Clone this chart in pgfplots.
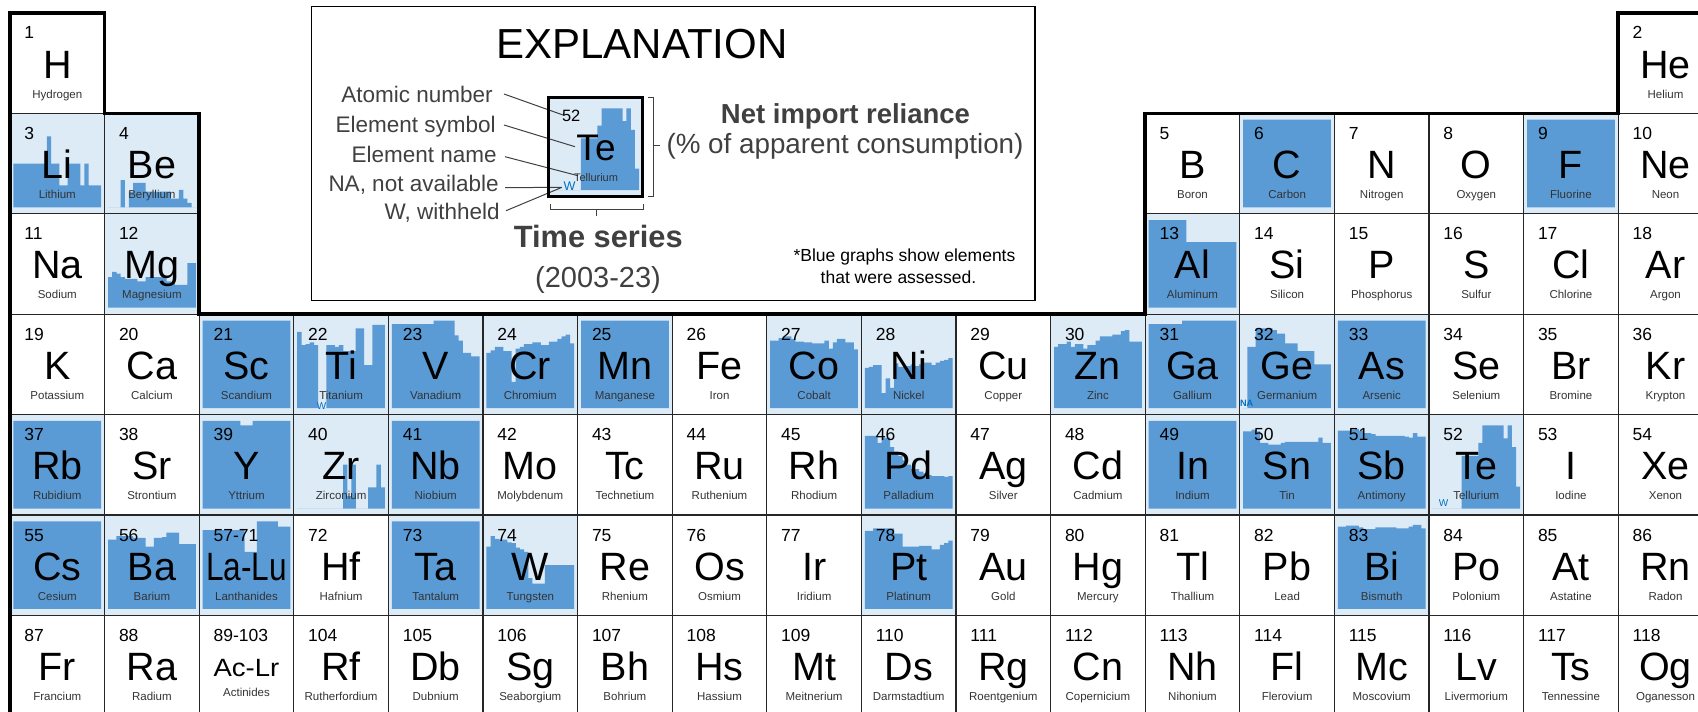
\documentclass[border=0pt]{standalone}
\usepackage{fontspec}
\setmainfont{Liberation Sans}
\usepackage{pgfplots}
\usepackage{pgfplotstable}
\pgfplotsset{compat=1.18}

\definecolor{dkblue}{RGB}{91,155,213}
\definecolor{ltblue}{RGB}{221,235,247}
\definecolor{txtgray}{RGB}{64,64,64}
\definecolor{wblue}{RGB}{0,112,192}

% net import reliance, % of apparent consumption, 2003-2023 (one row per element)
\pgfplotstableread{
el   y03 y04 y05 y06 y07 y08 y09 y10 y11 y12 y13 y14 y15 y16 y17 y18 y19 y20 y21 y22 y23
Li    50  50  50  50  50  50  50  50  81  50  50  25  25  50  50  50  25  50  25  25  25
Be     0   0   0  31   0  18  28  28  28  18  18  18  18  18  18  10  10  20  10   5   0
Mg    35  41  39  35  33  33  33  30  30  35  35  35  35  35  30  28  26  26  26  51  51
C    100 100 100 100 100 100 100 100 100 100 100 100 100 100 100 100 100 100 100 100 100
F    100 100 100 100 100 100 100 100 100 100 100 100 100 100 100 100 100 100 100 100 100
Al   100 100 100 100 100 100 100 100 100  75  75  75  75  75  75  75  75  75  75  75  75
Sc   100 100 100 100 100 100 100 100 100 100 100 100 100 100 100 100 100 100 100 100 100
Ti    87  72  73  75  72   0   0  72  72  70  72  65  65  65  91  91  49  49  95  95  95
V     96  96  96  96  96  96  96  96  96  96 100 100 100 100 100  83  77  63  63  59  59
Cr    63  66  70  70  65  65  30  68  70  73  73  75  75  72  72  76  76  79  82  84  74
Mn   100 100 100 100 100 100 100 100 100 100 100 100 100 100 100 100 100 100 100 100 100
Co    77  77  80  82  82  79  76  76  75  75  74  74  74  77  68  75  79  79  75  75  67
Ni    46  47  49  49  17  34  23  51  47  47  48  50  48  50  52  52  49  52  54  55  57
Zn    70  73  73  76  70  73  73  68  72  72  77  82  82  82  84  84  88  89  76  76  76
Ga    96  96  96  96  96  96  96  96 100 100 100 100 100 100 100 100 100 100 100 100 100
Ge     0  70  70  91  91  91  91  89  85  85  74  74  74  65  65  65  65  50  50  50  50
As   100 100 100 100 100 100 100 100 100 100 100 100 100 100 100 100 100 100 100 100 100
Rb   100 100 100 100 100 100 100 100 100 100 100 100 100 100 100 100 100 100 100 100 100
Y    100 100 100 100 100 100 100 100 100  95  95  95 100 100 100 100 100 100 100 100 100
Zr     0   0   0   0   0   0   0   0   0   0   0  50  14  50   0   0   0  24  24  50  24
Nb   100 100 100 100 100 100 100 100 100 100 100 100 100 100 100 100 100 100 100 100 100
Pd    83  83  83  75  81  81  70  65  60  55  50  45  45  42  40  38  37  37  37  36  37
In   100 100 100 100 100 100 100 100 100 100 100 100 100 100 100 100 100 100 100 100 100
Sn    88  88  90  88  75  75  73  73  73  75  76  76  76  76  76  76  76  76  81  75  75
Sb    89  89  89  90  91  89  86  86  85  83  83  83  83  83  83  83  82  81  86  82  82
Te     0   0   0   0   0   0   0  60  60  60  60  75  95  95  95  95  95  80  95  70  25
Cs   100 100 100 100 100 100 100 100 100 100 100 100 100 100 100 100 100 100 100 100 100
Ba    79  79  83  83  83  83  81  81  81  71  71  81  81  82  87  87  87  74  74  74  74
LaLu  90  90  90  90  90  90  90  90  90  90  65  65  65 100 100 100 100 100  94  94  94
Ta   100 100 100 100 100 100 100 100 100 100 100 100 100 100 100 100 100 100 100 100 100
W     71  83  80  79  79  76  75  70  68  65  35  29  29  29  50  50  50  50  50  50  50
Pt    89  89  92  92  92  92  92  86  86  71  71  71  71  72  72  72  68  68  73  75  78
Bi    94  94  95  95  95  93  91  91  91  93  93  93  93  93  92  92  92  94  96  96  92
}\nirraw
\pgfplotstabletranspose[colnames from=el]{\nir}{\nirraw}

\pgfplotsset{spark/.style={anchor=south west, width=43.8pt, height=43.8pt,
  scale only axis, hide axis, xmin=-0.5, xmax=20.5, ymin=0, ymax=100,
  ybar, bar width=1.04, clip=false}}

\newcommand\fsz[1]{\fontsize{#1pt}{#1pt}\selectfont}

% cell grid: column k starts at 10+(k-1)*94.6 px, row r at 13+(r-1)*100.4 px
\newcommand\bg[2]{\fill[ltblue] ({10+(#1-1)*94.6},{13+(#2-1)*100.4}) rectangle +(94.6,100.4);}

\newcommand\spark[3]{%
  \pgfmathsetmacro\sx{0.5*(13.5+(#1-1)*94.6)}%
  \pgfmathsetmacro\sy{-0.5*(13+#2*100.4-6.5)}%
  \begin{axis}[spark, at={(\sx pt,\sy pt)}]
    \addplot[fill=dkblue, draw=none] table[x expr=\coordindex, y=#3] {\nir};
  \end{axis}}

\newcommand\cell[5]{%
  \pgfmathsetmacro\cx{10+(#1-1)*94.6}%
  \pgfmathsetmacro\cy{13+(#2-1)*100.4}%
  \draw[black!85, line width=0.65pt] (\cx,\cy) rectangle +(94.6,100.4);
  \node[anchor=base west, inner sep=0, font=\fsz{8.75}] at (\cx+14,\cy+26) {#3};
  \node[anchor=base, inner sep=0, font=\fsz{19.75}] at (\cx+47.3,\cy+65) {#4};
  \node[anchor=base, inner sep=0, font=\fsz{5.75}, text=black!80] at (\cx+47.3,\cy+85) {#5};
}

\begin{document}
\begin{tikzpicture}
\path[use as bounding box] (0,0) rectangle (849pt,-356pt);
\clip (0,0) rectangle (849pt,-356pt);

\begin{scope}[x=0.5pt,y=-0.5pt]
  \bg{1}{2}\bg{2}{2}\bg{14}{2}\bg{17}{2}\bg{2}{3}\bg{13}{3}
  \bg{3}{4}\bg{4}{4}\bg{5}{4}\bg{6}{4}\bg{7}{4}\bg{9}{4}\bg{10}{4}\bg{12}{4}\bg{13}{4}\bg{14}{4}\bg{15}{4}
  \bg{1}{5}\bg{3}{5}\bg{4}{5}\bg{5}{5}\bg{10}{5}\bg{13}{5}\bg{14}{5}\bg{15}{5}\bg{16}{5}
  \bg{1}{6}\bg{2}{6}\bg{3}{6}\bg{5}{6}\bg{6}{6}\bg{10}{6}\bg{15}{6}
  \fill[ltblue] (548.3,97.7) rectangle (642.7,196.7);
\end{scope}

\spark{1}{2}{Li}\spark{2}{2}{Be}\spark{14}{2}{C}\spark{17}{2}{F}
\spark{2}{3}{Mg}\spark{13}{3}{Al}
\spark{3}{4}{Sc}\spark{4}{4}{Ti}\spark{5}{4}{V}\spark{6}{4}{Cr}\spark{7}{4}{Mn}
\spark{9}{4}{Co}\spark{10}{4}{Ni}\spark{12}{4}{Zn}\spark{13}{4}{Ga}\spark{14}{4}{Ge}\spark{15}{4}{As}
\spark{1}{5}{Rb}\spark{3}{5}{Y}\spark{4}{5}{Zr}\spark{5}{5}{Nb}\spark{10}{5}{Pd}
\spark{13}{5}{In}\spark{14}{5}{Sn}\spark{15}{5}{Sb}\spark{16}{5}{Te}
\spark{1}{6}{Cs}\spark{2}{6}{Ba}\spark{3}{6}{LaLu}\spark{5}{6}{Ta}\spark{6}{6}{W}
\spark{10}{6}{Pt}\spark{15}{6}{Bi}

% sample cell in the explanation
\begin{axis}[spark, at={(276pt,-95pt)}, width=43.5pt, height=43pt]
  \addplot[fill=dkblue, draw=none] table[x expr=\coordindex, y=Te] {\nir};
\end{axis}

\begin{scope}[x=0.5pt,y=-0.5pt]
  \cell{1}{1}{1}{H}{Hydrogen}\cell{18}{1}{2}{He}{Helium}
  \cell{1}{2}{3}{Li}{Lithium}\cell{2}{2}{4}{Be}{Beryllium}
  \cell{13}{2}{5}{B}{Boron}\cell{14}{2}{6}{C}{Carbon}\cell{15}{2}{7}{N}{Nitrogen}
  \cell{16}{2}{8}{O}{Oxygen}\cell{17}{2}{9}{F}{Fluorine}\cell{18}{2}{10}{Ne}{Neon}
  \cell{1}{3}{11}{Na}{Sodium}\cell{2}{3}{12}{Mg}{Magnesium}
  \cell{13}{3}{13}{Al}{Aluminum}\cell{14}{3}{14}{Si}{Silicon}\cell{15}{3}{15}{P}{Phosphorus}
  \cell{16}{3}{16}{S}{Sulfur}\cell{17}{3}{17}{Cl}{Chlorine}\cell{18}{3}{18}{Ar}{Argon}
  \foreach \n/\s/\m [count=\c] in {19/K/Potassium,20/Ca/Calcium,21/Sc/Scandium,22/Ti/Titanium,
      23/V/Vanadium,24/Cr/Chromium,25/Mn/Manganese,26/Fe/Iron,27/Co/Cobalt,28/Ni/Nickel,
      29/Cu/Copper,30/Zn/Zinc,31/Ga/Gallium,32/Ge/Germanium,33/As/Arsenic,34/Se/Selenium,
      35/Br/Bromine,36/Kr/Krypton}{\cell{\c}{4}{\n}{\s}{\m}}
  \foreach \n/\s/\m [count=\c] in {37/Rb/Rubidium,38/Sr/Strontium,39/Y/Yttrium,40/Zr/Zirconium,
      41/Nb/Niobium,42/Mo/Molybdenum,43/Tc/Technetium,44/Ru/Ruthenium,45/Rh/Rhodium,
      46/Pd/Palladium,47/Ag/Silver,48/Cd/Cadmium,49/In/Indium,50/Sn/Tin,51/Sb/Antimony,
      52/Te/Tellurium,53/I/Iodine,54/Xe/Xenon}{\cell{\c}{5}{\n}{\s}{\m}}
  \foreach \n/\s/\m [count=\c] in {55/Cs/Cesium,56/Ba/Barium,57-71/{\scalebox{0.8}[1]{La-Lu}}/Lanthanides,
      72/Hf/Hafnium,73/Ta/Tantalum,74/W/Tungsten,75/Re/Rhenium,76/Os/Osmium,77/Ir/Iridium,
      78/Pt/Platinum,79/Au/Gold,80/Hg/Mercury,81/Tl/Thallium,82/Pb/Lead,83/Bi/Bismuth,
      84/Po/Polonium,85/At/Astatine,86/Rn/Radon}{\cell{\c}{6}{\n}{\s}{\m}}
  \foreach \n/\s/\m [count=\c] in {87/Fr/Francium,88/Ra/Radium,89-103/{}/{},104/Rf/Rutherfordium,
      105/Db/Dubnium,106/Sg/Seaborgium,107/Bh/Bohrium,108/Hs/Hassium,109/Mt/Meitnerium,
      110/Ds/Darmstadtium,111/Rg/Roentgenium,112/Cn/Copernicium,113/Nh/Nihonium,
      114/Fl/Flerovium,115/Mc/Moscovium,116/Lv/Livermorium,117/Ts/Tennessine,
      118/Og/Oganesson}{\cell{\c}{7}{\n}{\s}{\m}}
  \node[anchor=base, inner sep=0, font=\fsz{12.5}] at (246.5,676.7) {\scalebox{1.1}[1]{Ac-Lr}};
  \node[anchor=base, inner sep=0, font=\fsz{5.75}, text=black!80] at (246.5,696.7) {Actinides};

  % withheld / not available markers
  \node[anchor=base, inner sep=0, font=\fsz{5}, text=wblue] at (321.5,409) {W};
  \node[anchor=base, inner sep=0, font=\bfseries\fsz{4.6}, text=wblue] at (1246.7,406) {NA};
  \node[anchor=base, inner sep=0, font=\fsz{5}, text=wblue] at (1443.6,506) {W};

  % thick outline
  \draw[line width=1.75pt, line join=miter] (1712.8,13)--(1618.2,13)--(1618.2,113.4)--(1145.2,113.4)
    --(1145.2,314.2)--(199.2,314.2)--(199.2,113.4)--(104.6,113.4)--(104.6,13)--(10,13)--(10,715.8);

  % explanation
  \draw[line width=0.7pt] (311.7,6.7) rectangle (1035,300.5);
  \node[anchor=base, inner sep=0, font=\fsz{21}] at (642,58.3) {EXPLANATION};
  \begin{scope}[every node/.style={anchor=base east, inner sep=0, font=\fsz{11.25}, text=txtgray}]
    \node at (493,102.7) {Atomic number};
    \node at (496,132.3) {Element symbol};
    \node at (497,162.3) {Element name};
    \node at (499,191.7) {NA, not available};
    \node at (500,219) {W, withheld};
  \end{scope}
  \begin{scope}[draw=txtgray, line width=0.5pt]
    \draw (504,94)--(563,115);
    \draw (504,125)--(575,146.7);
    \draw (505,156.7)--(578,175.7);
    \draw (505,187.7)--(561,187.3);
    \draw (506,210.7)--(562,187.3);
    \draw (648,97.7)--(653,97.7)--(653,196.7)--(648,196.7);
    \draw (653,145.7)--(660,145.7);
    \draw (550,204)--(550,209)--(643,209)--(643,204);
    \draw (596.7,209)--(596.7,216);
  \end{scope}
  \draw[line width=1.35pt] (548.3,97.7) rectangle (642.7,196.7);
  \node[anchor=base west, inner sep=0, font=\fsz{8.2}] at (561.7,121.7) {52};
  \node[anchor=base, inner sep=0, font=\fsz{18.5}] at (596,160) {Te};
  \node[anchor=base, inner sep=0, font=\fsz{5.5}, text=black!80] at (596,181.7) {Tellurium};
  \node[anchor=base, inner sep=0, font=\fsz{6.3}, text=wblue] at (569.5,190.5) {W};

  \node[anchor=base, inner sep=0, font=\bfseries\fsz{13.75}, text=txtgray] at (845.5,123.5) {Net import reliance};
  \node[anchor=base, inner sep=0, font=\fsz{13.9}, text=txtgray] at (845,153.5) {(\% of apparent consumption)};
  \node[anchor=base, inner sep=0, font=\bfseries\fsz{15.4}, text=txtgray] at (598.3,247.3) {Time series};
  \node[anchor=base, inner sep=0, font=\fsz{14.5}, text=txtgray] at (598,287.3) {(2003-23)};
  \node[anchor=base, inner sep=0, font=\fsz{8.75}] at (904.5,261.7) {*Blue graphs show elements};
  \node[anchor=base, inner sep=0, font=\fsz{8.75}] at (898.5,283.3) {that were assessed.};
\end{scope}
\end{tikzpicture}
\end{document}
